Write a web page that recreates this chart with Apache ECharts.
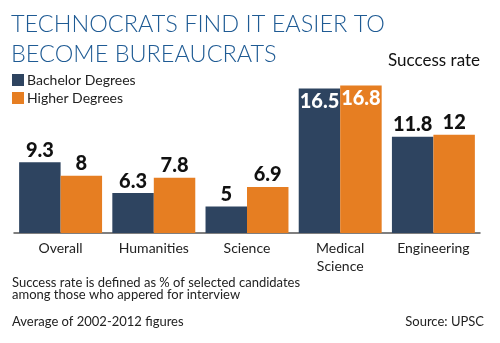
<!DOCTYPE html>
<html>
<head>
<meta charset="utf-8">
<script src="https://cdn.jsdelivr.net/npm/echarts@6/dist/echarts.min.js"></script>
<style>
  html, body { margin: 0; padding: 0; background: #fff; }
  #chart { width: 500px; height: 343px; }
</style>
</head>
<body>
<div id="chart"></div>
<script>
// Success rate (%) of UPSC candidates by field, average 2002-2012
const categories = ['Overall', 'Humanities', 'Science', 'Medical\nScience', 'Engineering'];
const bachelorDegrees = [9.3, 6.3, 5, 16.5, 11.8];
const higherDegrees = [8, 7.8, 6.9, 16.8, 12];
// Bars tall enough to hold their label inside
const insideLabelCategories = ['Medical\nScience'];

const NAVY = '#2e4460';
const ORANGE = '#e67e22';
const FONT = 'Lato, "Noto Sans", sans-serif';

function seriesData(values) {
  return values.map((v, i) => {
    if (insideLabelCategories.includes(categories[i])) {
      return { value: v, label: { position: 'insideTop', color: '#fff', distance: 3 } };
    }
    return v;
  });
}

const chart = echarts.init(document.getElementById('chart'), null, { renderer: 'canvas' });

const valueLabel = {
  show: true,
  position: 'top',
  distance: 2,
  fontFamily: FONT,
  fontWeight: 900,
  fontSize: 20,
  color: '#111'
};

chart.setOption({
  animation: false,
  backgroundColor: '#fff',
  grid: { left: 14, right: 20, top: 83.5, bottom: 110, containLabel: false },
  legend: {
    orient: 'vertical',
    left: 12,
    top: 73,
    padding: 0,
    itemWidth: 12,
    itemHeight: 12,
    itemGap: 4,
    icon: 'rect',
    textStyle: { fontFamily: FONT, fontSize: 14, color: '#222', padding: [0, 0, 0, -2] },
    data: ['Bachelor Degrees', 'Higher Degrees']
  },
  xAxis: {
    type: 'category',
    data: categories,
    axisLine: { show: true, lineStyle: { color: '#555', width: 1.5 } },
    axisTick: { show: false },
    axisLabel: { interval: 0, fontFamily: FONT, fontSize: 14, color: '#222', margin: 6, lineHeight: 18 }
  },
  yAxis: {
    type: 'value',
    min: 2.4,
    max: 17,
    show: false,
    splitLine: { show: false }
  },
  series: [
    {
      name: 'Bachelor Degrees',
      type: 'bar',
      data: seriesData(bachelorDegrees),
      itemStyle: { color: NAVY },
      barGap: '0%',
      barCategoryGap: '11%',
      label: valueLabel
    },
    {
      name: 'Higher Degrees',
      type: 'bar',
      data: seriesData(higherDegrees),
      itemStyle: { color: ORANGE },
      label: valueLabel
    }
  ],
  graphic: [
    {
      type: 'text', left: 11, top: 9,
      style: { text: 'TECHNOCRATS FIND IT EASIER TO\nBECOME BUREAUCRATS', fill: '#1f5b94',
               font: '300 23.5px ' + FONT, lineHeight: 30 }
    },
    {
      type: 'text', right: 20, top: 52,
      style: { text: 'Success rate', fill: '#111', font: '17px ' + FONT }
    },
    {
      type: 'text', left: 12, top: 276,
      style: { text: 'Success rate is defined as % of selected candidates\namong those who appered for interview',
               fill: '#222', font: '13px ' + FONT, lineHeight: 12 }
    },
    {
      type: 'text', left: 12, top: 315,
      style: { text: 'Average of 2002-2012 figures', fill: '#222', font: '13px ' + FONT }
    },
    {
      type: 'text', right: 16, top: 315,
      style: { text: 'Source: UPSC', fill: '#222', font: '13px ' + FONT }
    }
  ]
});
</script>
</body>
</html>
